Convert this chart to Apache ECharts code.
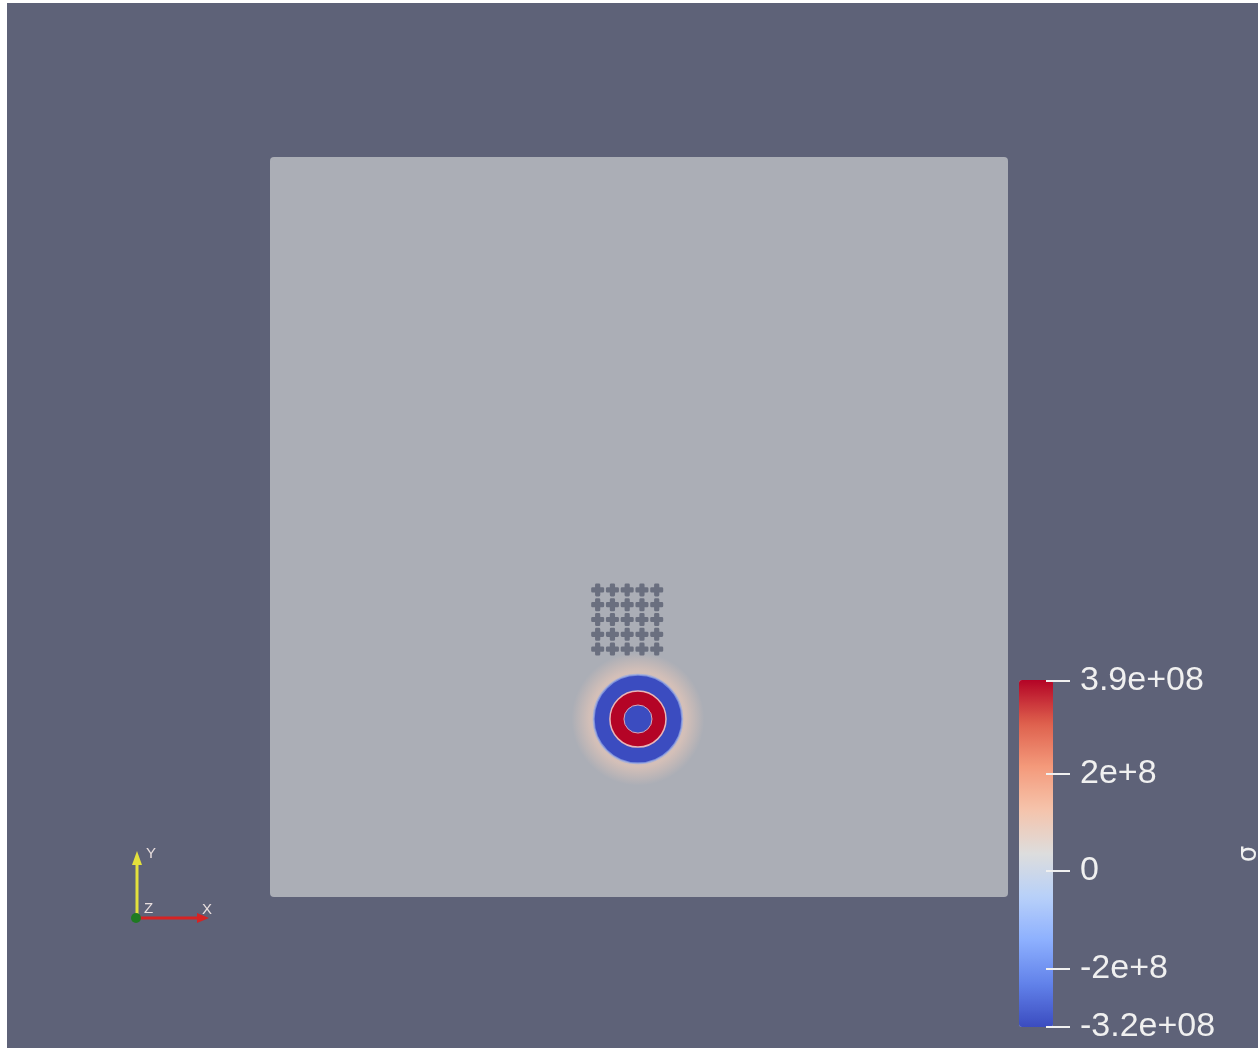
<!DOCTYPE html>
<html><head><meta charset="utf-8">
<script src="https://cdn.jsdelivr.net/npm/echarts@6/dist/echarts.min.js"></script>
<style>
html,body{margin:0;padding:0;background:#ffffff;width:1258px;height:1048px;overflow:hidden}
#chart{position:absolute;left:7px;top:3px;width:1251px;height:1045px}
</style>
</head><body><div id="chart"></div>
<script>
// ---- data ----
const plateX = [0, 1];
const plateY = [0, 1];
const holeCenter = [0.4986, 0.2405];
const ringRadius = [0.09, 0.06, 0.038, 0.019];
const ringValue = [1.0e8, -3.2e8, 3.9e8, -3.2e8];
const markerX = [0.444, 0.464, 0.484, 0.504, 0.524];
const markerY = [0.415, 0.395, 0.375, 0.355, 0.335];
const barMin = -3.2e8;
const barMax = 3.9e8;
const tickValues = [-3.2e8, -2e8, 0, 2e8, 3.9e8];
const tickLabels = ['-3.2e+08', '-2e+8', '0', '2e+8', '3.9e+08'];
const fieldName = 'σ';
const coolWarm = ['#3b4cc0','#6282ea','#8db0fe','#b8d0f9','#dddddd','#f5c4ac','#f49a7b','#de604d','#b40426'];

const ringData = ringRadius.map((r, i) => [holeCenter[0], holeCenter[1], r, ringValue[i]]);
const markerData = [];
markerY.forEach(y => markerX.forEach(x => markerData.push([x, y])));

function withAlpha(c, a) {
  const m = c.match(/rgba?\(([^)]+)\)/);
  if (m) { const p = m[1].split(',').map(s => s.trim()); return 'rgba(' + p[0] + ',' + p[1] + ',' + p[2] + ',' + a + ')'; }
  const h = c.replace('#', '');
  const r = parseInt(h.substr(0,2),16), g = parseInt(h.substr(2,2),16), b = parseInt(h.substr(4,2),16);
  return 'rgba(' + r + ',' + g + ',' + b + ',' + a + ')';
}

const chart = echarts.init(document.getElementById('chart'));
const txt = '#f0f0f0';
chart.setOption({
  backgroundColor: '#5e6278',
  animation: false,
  grid: [
    { left: 263, top: 154, width: 738, height: 740, outerBoundsMode: 'none', containLabel: false },
    { left: 1039, top: 678, width: 1, height: 346, outerBoundsMode: 'none', containLabel: false }
  ],
  xAxis: [
    { gridIndex: 0, type: 'value', min: 0, max: 1, show: false },
    { gridIndex: 1, type: 'value', min: 0, max: 1, show: false }
  ],
  yAxis: [
    { gridIndex: 0, type: 'value', min: 0, max: 1, show: false },
    { gridIndex: 1, type: 'value', min: barMin, max: barMax, position: 'right', z: 10,
      axisLine: { show: false }, splitLine: { show: false },
      axisTick: { show: true, length: 24, customValues: tickValues, lineStyle: { color: txt, width: 2 } },
      axisLabel: { show: true, customValues: tickValues, margin: 33, fontSize: 34, color: txt,
        fontFamily: 'Liberation Sans', padding: [0, 0, 8, 0],
        formatter: v => { const i = tickValues.findIndex(t => Math.abs(t - v) < 1); return i >= 0 ? tickLabels[i] : ''; } },
      name: fieldName, nameLocation: 'middle', nameRotate: 90, nameGap: 189,
      nameTextStyle: { color: txt, fontSize: 26, fontFamily: 'DejaVu Sans' }
    }
  ],
  visualMap: [{
    type: 'continuous', min: barMin, max: barMax, dimension: 3, seriesIndex: 1,
    inRange: { color: coolWarm }, calculable: false, hoverLink: false,
    left: 1012, top: 677, itemWidth: 34, itemHeight: 347, padding: 0,
    orient: 'vertical', z: 1
  }],
  series: [
    { type: 'custom', xAxisIndex: 0, yAxisIndex: 0, data: [[plateX[0], plateY[0], plateX[1], plateY[1]]],
      renderItem: (params, api) => {
        const p0 = api.coord([api.value(0), api.value(3)]);
        const p1 = api.coord([api.value(2), api.value(1)]);
        return { type: 'rect', shape: { x: p0[0], y: p0[1], width: p1[0] - p0[0], height: p1[1] - p0[1], r: 4 },
          style: { fill: '#abaeb6' } };
      }, z: 1 },
    { type: 'custom', xAxisIndex: 0, yAxisIndex: 0, data: ringData, z: 3,
      renderItem: (params, api) => {
        const c = api.coord([api.value(0), api.value(1)]);
        const r = api.size([api.value(2), 0])[0];
        const col = api.visual('color');
        if (params.dataIndex === 0) {
          return { type: 'circle', shape: { cx: c[0], cy: c[1], r: r },
            style: { fill: { type: 'radial', x: 0.5, y: 0.5, r: 0.5, colorStops: [
              { offset: 0, color: withAlpha(col, 0.6) },
              { offset: 0.72, color: withAlpha(col, 0.6) },
              { offset: 1, color: withAlpha(col, 0) } ] } } };
        }
        if (params.dataIndex === 2) {
          return { type: 'circle', shape: { cx: c[0], cy: c[1], r: r },
            style: { fill: col, stroke: '#e9b6b8', lineWidth: 1.5 } };
        }
        if (params.dataIndex === 1) {
          return { type: 'circle', shape: { cx: c[0], cy: c[1], r: r },
            style: { fill: col, stroke: 'rgba(150,170,230,0.7)', lineWidth: 2 } };
        }
        return { type: 'circle', shape: { cx: c[0], cy: c[1], r: r },
          style: { fill: col, stroke: '#d9a9b6', lineWidth: 1 } };
      } },
    { type: 'scatter', xAxisIndex: 0, yAxisIndex: 0, data: markerData, z: 4,
      symbol: 'path://M4,0 H6 Q7,0 7,1 V3 H9 Q10,3 10,4 V6 Q10,7 9,7 H7 V9 Q7,10 6,10 H4 Q3,10 3,9 V7 H1 Q0,7 0,6 V4 Q0,3 1,3 H3 V1 Q3,0 4,0 Z',
      symbolSize: 13, itemStyle: { color: '#5a5f72' }, silent: true }
  ],
  graphic: [
    { type: 'line', shape: { x1: 130, y1: 915, x2: 130, y2: 858 }, style: { stroke: '#e4e13c', lineWidth: 3 } },
    { type: 'polygon', shape: { points: [[125, 862], [135, 862], [130, 848]] }, style: { fill: '#e4e13c' } },
    { type: 'line', shape: { x1: 130, y1: 915, x2: 194, y2: 915 }, style: { stroke: '#d62323', lineWidth: 3 } },
    { type: 'polygon', shape: { points: [[190, 910], [190, 920], [202, 915]] }, style: { fill: '#d62323' } },
    { type: 'circle', shape: { cx: 129, cy: 915, r: 5 }, style: { fill: '#1f7a22' } },
    { type: 'text', x: 139, y: 843, style: { text: 'Y', fill: '#e8dede', font: '15px "Liberation Sans"' } },
    { type: 'text', x: 137, y: 898, style: { text: 'Z', fill: '#e8dede', font: '15px "Liberation Sans"' } },
    { type: 'text', x: 195, y: 899, style: { text: 'X', fill: '#e8dede', font: '15px "Liberation Sans"' } }
  ]
});
</script>
</body></html>
